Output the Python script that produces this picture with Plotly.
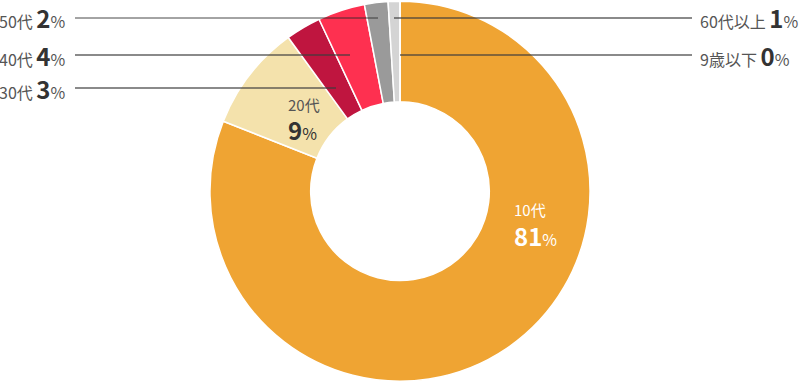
import plotly.graph_objects as go

W, H = 800, 382

# Data (clockwise from 12 o'clock)
categories = ["10代", "20代", "30代", "40代", "50代", "60代以上", "9歳以下"]
values = [81, 9, 3, 4, 2, 1, 0]
colors = ["#EFA433", "#F4E2AC", "#BF153F", "#FE3050", "#9A9A9A", "#D4D4D4", "#E6E6E6"]

FONT = "Noto Sans CJK JP, Noto Sans, sans-serif"


def px(x, y):
    return x / W, 1 - y / H


fig = go.Figure(
    go.Pie(
        labels=categories,
        values=values,
        marker=dict(colors=colors, line=dict(color="white", width=1.5)),
        hole=0.47,
        sort=False,
        direction="clockwise",
        rotation=0,
        textinfo="none",
        hoverinfo="label+percent",
        showlegend=False,
        domain=dict(x=[0, 1], y=[0.002, 0.997]),
    )
)

annotations = []
shapes = []


def label_text(name, v):
    return (f"{name} <span style='font-size:24px;color:#333333'><b>{v}</b></span>"
            f"<span style='font-size:16px'>%</span>")


# Outside labels: (category index, label anchor x, y, line start x, line end x, side, line style)
outside = [
    (4, 68, 18, 75, 378, "left", dict(color="rgba(40,40,40,0.85)", width=1)),
    (3, 68, 55, 75, 350, "left", dict(color="rgba(60,60,60,0.6)", width=2)),
    (2, 68, 88, 75, 336, "left", dict(color="rgba(60,60,60,0.6)", width=2)),
    (5, 698, 18, 394, 692, "right", dict(color="rgba(60,60,60,0.6)", width=2)),
    (6, 698, 55, 400, 692, "right", dict(color="rgba(60,60,60,0.6)", width=2)),
]
for idx, lx, ly, x0, x1, side, ls in outside:
    ax, ay = px(lx, ly)
    annotations.append(dict(
        x=ax, y=ay, xref="paper", yref="paper",
        text=label_text(categories[idx], values[idx]),
        showarrow=False, xanchor="right" if side == "left" else "left",
        yanchor="middle", font=dict(family=FONT, size=16, color="#555555"),
    ))
    sx0, sy = px(x0, ly)
    sx1, _ = px(x1, ly)
    shapes.append(dict(type="line", xref="paper", yref="paper",
                       x0=sx0, x1=sx1, y0=sy, y1=sy, line=ls, layer="above"))

# Inside labels: (category index, left x, name y, value y, colour)
inside = [
    (0, 512, 209, 235, "white", "white"),
    (1, 286, 105, 129, "#555555", "#333333"),
]
for idx, lx, ny, vy, col, vcol in inside:
    ax, ay = px(lx, ny)
    annotations.append(dict(
        x=ax, y=ay, xref="paper", yref="paper",
        text=categories[idx],
        showarrow=False, xanchor="left", yanchor="middle",
        font=dict(family=FONT, size=15, color=col),
    ))
    ax, ay = px(lx, vy)
    annotations.append(dict(
        x=ax, y=ay, xref="paper", yref="paper",
        text=(f"<span style='font-size:24px'><b>{values[idx]}</b></span>"
              f"<span style='font-size:16px'>%</span>"),
        showarrow=False, xanchor="left", yanchor="middle",
        font=dict(family=FONT, size=15, color=vcol),
    ))

fig.update_layout(
    width=W, height=H,
    margin=dict(l=0, r=0, t=0, b=0),
    paper_bgcolor="white", plot_bgcolor="white",
    annotations=annotations, shapes=shapes,
    font=dict(family=FONT),
)

fig.write_html("out.html", config={"displayModeBar": False},
               post_script="document.body.style.margin='0';")
